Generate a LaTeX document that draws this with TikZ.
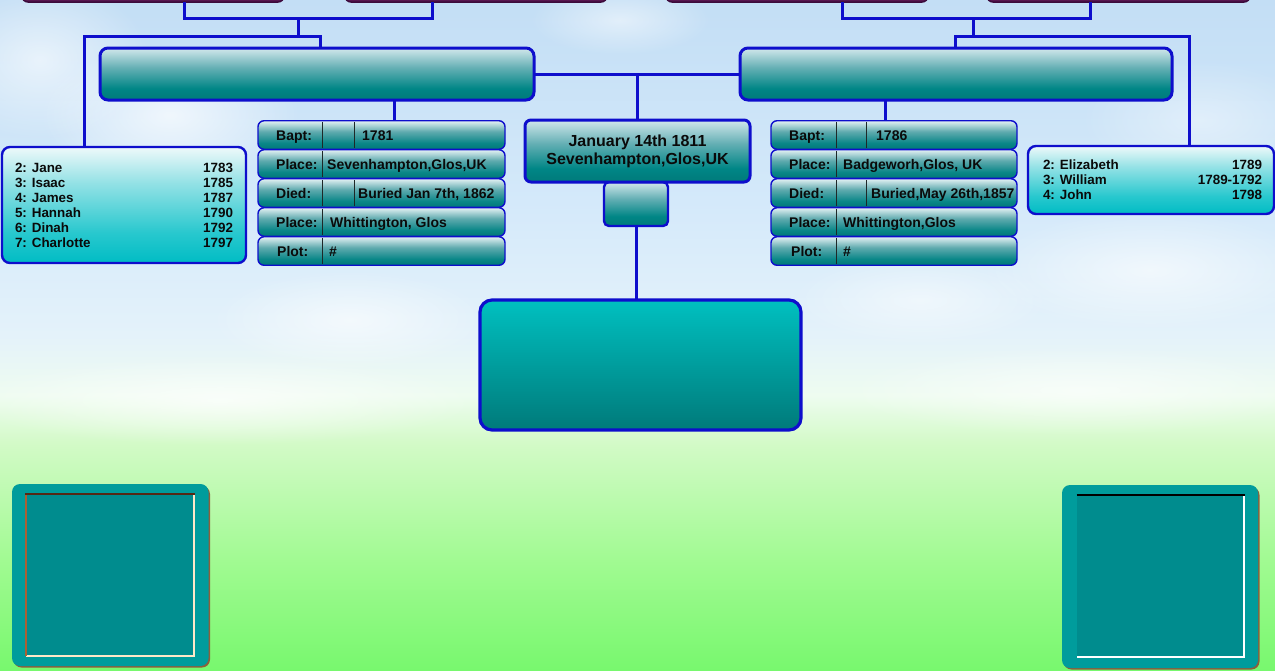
\documentclass[tikz,border=0pt]{standalone}
\usepackage{fontspec}
\setmainfont{Liberation Sans}
\usetikzlibrary{fadings,calc}
\definecolor{lineblue}{RGB}{14,14,204}
\definecolor{txt}{RGB}{10,10,10}
\definecolor{divcol}{RGB}{30,40,40}
\definecolor{purp}{RGB}{88,22,80}
\definecolor{purpedge}{RGB}{60,10,60}
% family boxes
\definecolor{famB}{RGB}{0,122,122}
\definecolor{famB2}{RGB}{0,134,134}
\definecolor{famM}{RGB}{100,175,180}
\definecolor{famT}{RGB}{210,232,236}
% rows
\definecolor{rowB}{RGB}{0,120,120}
\definecolor{rowB2}{RGB}{10,135,136}
\definecolor{rowM}{RGB}{95,170,174}
\definecolor{rowT}{RGB}{228,242,244}
% kids
\definecolor{kidB}{RGB}{0,188,196}
\definecolor{kidB2}{RGB}{40,200,206}
\definecolor{kidM}{RGB}{150,226,230}
\definecolor{kidT}{RGB}{238,249,250}
% big box
\definecolor{bigT}{RGB}{0,192,192}
\definecolor{bigB}{RGB}{0,122,122}
% background
\definecolor{bgA}{RGB}{120,248,110}
\definecolor{bgB}{RGB}{160,250,145}
\definecolor{bgC}{RGB}{210,250,198}
\definecolor{bgD}{RGB}{238,252,240}
\definecolor{bgE}{RGB}{228,242,250}
\definecolor{bgF}{RGB}{212,233,250}
\definecolor{bgG}{RGB}{195,222,245}
% frames
\definecolor{frOut}{RGB}{0,156,156}
\definecolor{frIn}{RGB}{0,140,142}
\definecolor{frShadow}{RGB}{140,95,60}
\definecolor{frDark}{RGB}{85,40,20}
\definecolor{frBrown}{RGB}{170,95,50}
\definecolor{frCream}{RGB}{255,232,200}
\pgfdeclareverticalshading{famsh}{100bp}{color(0bp)=(famB); color(25bp)=(famB); color(36bp)=(famB2); color(56bp)=(famM); color(75bp)=(famT); color(100bp)=(famT)}
\pgfdeclareverticalshading{rowsh}{100bp}{color(0bp)=(rowB); color(25bp)=(rowB); color(36bp)=(rowB2); color(56bp)=(rowM); color(75bp)=(rowT); color(100bp)=(rowT)}
\pgfdeclareverticalshading{kidsh}{100bp}{color(0bp)=(kidB); color(25bp)=(kidB); color(38bp)=(kidB2); color(60bp)=(kidM); color(75bp)=(kidT); color(100bp)=(kidT)}
\pgfdeclareverticalshading{bigsh}{100bp}{color(0bp)=(bigB); color(25bp)=(bigB); color(75bp)=(bigT); color(100bp)=(bigT)}
\pgfdeclareverticalshading{bgsh}{100bp}{color(0bp)=(bgA); color(25bp)=(bgA); color(33bp)=(bgB); color(41.8bp)=(bgC); color(45.5bp)=(bgD); color(50bp)=(bgE); color(60bp)=(bgF); color(75bp)=(bgG); color(100bp)=(bgG)}
\tikzfading[name=fuzzy, inner color=transparent!0, outer color=transparent!100]
\begin{document}
\begin{tikzpicture}[x=1pt,y=-1pt,
  conn/.style={draw=lineblue, line width=3pt},
  purplebox/.style={draw=purpedge, fill=purp, line width=1.5pt, rounded corners=6pt, inner sep=0, outer sep=0, minimum height=32pt},
  fambox/.style={draw=lineblue, line width=3pt, rounded corners=8pt, shade, shading=famsh, inner sep=0, outer sep=0, minimum height=52pt},
  rowbox/.style={draw=lineblue, line width=1.4pt, rounded corners=6pt, shade, shading=rowsh, inner sep=0, outer sep=0, minimum height=28.5pt},
  rowtext/.style={anchor=base west, inner sep=0, font=\fontsize{14}{16}\selectfont\bfseries, text=txt},
  divider/.style={draw=divcol, line width=1pt, shorten <=1.5pt, shorten >=1.5pt},
  kidsbox/.style={draw=lineblue, line width=2.4pt, rounded corners=8pt, shade, shading=kidsh, inner sep=0, outer sep=0},
  kidstext/.style={inner sep=0, font=\fontsize{13.4}{15}\selectfont\bfseries, text=txt},
  birthbox/.style={draw=lineblue, line width=3pt, rounded corners=6pt, shade, shading=famsh, inner sep=0, outer sep=0, align=center, font=\fontsize{16}{18}\selectfont\bfseries, text=txt},
  smallbox/.style={draw=lineblue, line width=2.4pt, rounded corners=5pt, shade, shading=famsh, inner sep=0, outer sep=0},
  bigbox/.style={draw=lineblue, line width=3.2pt, rounded corners=12pt, shade, shading=bigsh, inner sep=0, outer sep=0},
  cloud/.style={fill=white, path fading=fuzzy, fill opacity=#1},
  cloud/.default=0.6
]
\clip (0,0) rectangle (1275,670);
% background
\shade[shading=bgsh] (0,0) rectangle (1275,670);
% soft clouds
\fill[cloud=0.7] (170,115) ellipse (130 and 70);
\fill[cloud=0.6] (40,60) ellipse (110 and 80);
\fill[cloud=0.5] (620,20) ellipse (90 and 35);
\fill[cloud=0.6] (1150,270) ellipse (170 and 60);
\fill[cloud=0.5] (920,300) ellipse (130 and 45);
\fill[cloud=0.6] (350,320) ellipse (140 and 50);
\fill[cloud=0.7] (220,400) ellipse (260 and 45);
\fill[cloud=0.6] (1080,390) ellipse (240 and 45);
\fill[cloud=0.4] (1200,120) ellipse (120 and 60);

% top (partially visible) boxes
\node[purplebox, minimum width=262pt] (tl1) at (153,-14) {};
\node[purplebox, minimum width=262pt] (tl2) at (476,-14) {};
\node[purplebox, minimum width=262pt] (tr1) at (797,-14) {};
\node[purplebox, minimum width=263pt] (tr2) at (1118.5,-14) {};

% family boxes
\node[fambox, minimum width=434pt] (famL) at (317,74) {};
\node[fambox, minimum width=432pt] (famR) at (956,74) {};

% children boxes
\node[kidsbox, minimum width=244pt, minimum height=116pt] (kidsL) at (124,205) {};
\node[kidsbox, minimum width=246pt, minimum height=68pt] (kidsR) at (1151,180) {};
\node[kidstext] (kidsLt) at (124,207.2) {\begin{tabular*}{218pt}{@{}l@{\extracolsep{\fill}}r@{}}
2: Jane&1783\\3: Isaac&1785\\4: James&1787\\5: Hannah&1790\\6: Dinah&1792\\7: Charlotte&1797\end{tabular*}};
\node[kidstext] (kidsRt) at (1152.5,181.6) {\begin{tabular*}{219pt}{@{}l@{\extracolsep{\fill}}r@{}}
2: Elizabeth&1789\\3: William&1789-1792\\4: John&1798\end{tabular*}};

% info rows
\foreach \i/\y in {1/135,2/164,3/193,4/222,5/251}{
  \node[rowbox, minimum width=247pt] (lt\i) at (381.5,\y) {};
  \node[rowbox, minimum width=246pt] (rt\i) at (894,\y) {};
}
\foreach \i in {1,...,5}{
  \draw[divider] ([xshift=-59.5pt]lt\i.north) -- ([xshift=-59.5pt]lt\i.south);
  \draw[divider] ([xshift=-58pt]rt\i.north) -- ([xshift=-58pt]rt\i.south);
}
\foreach \i in {1,3}{
  \draw[divider] ([xshift=-27.5pt]lt\i.north) -- ([xshift=-27.5pt]lt\i.south);
  \draw[divider] ([xshift=-28pt]rt\i.north) -- ([xshift=-28pt]rt\i.south);
}
% left keys/values
\node[rowtext] (lk1) at (276,140) {Bapt:};
\node[rowtext] (lk2) at (276,169) {Place:};
\node[rowtext] (lk3) at (276,198) {Died:};
\node[rowtext] (lk4) at (276,227) {Place:};
\node[rowtext] (lk5) at (277,256) {Plot:};
\node[rowtext] (lv1) at (362,140) {1781};
\node[rowtext] (lv2) at (327,169) {Sevenhampton,Glos,UK};
\node[rowtext] (lv3) at (358,198) {Buried Jan 7th, 1862};
\node[rowtext] (lv4) at (330,227) {Whittington, Glos};
\node[rowtext] (lv5) at (329,256) {\#};
% right keys/values
\node[rowtext] (rk1) at (789,140) {Bapt:};
\node[rowtext] (rk2) at (789,169) {Place:};
\node[rowtext] (rk3) at (789,198) {Died:};
\node[rowtext] (rk4) at (789,227) {Place:};
\node[rowtext] (rk5) at (791,256) {Plot:};
\node[rowtext] (rv1) at (876,140) {1786};
\node[rowtext] (rv2) at (843,169) {Badgeworh,Glos, UK};
\node[rowtext] (rv3) at (871,198) {Buried,May 26th,1857};
\node[rowtext] (rv4) at (843,227) {Whittington,Glos};
\node[rowtext] (rv5) at (843,256) {\#};

% centre
\node[smallbox, minimum width=64pt, minimum height=44pt] (sm) at (636,204) {};
\node[birthbox, minimum width=225pt, minimum height=62pt] (birth) at (637.5,151) {January 14th 1811\\Sevenhampton,Glos,UK};
\node[bigbox, minimum width=321pt, minimum height=130pt] (big) at (640.5,365) {};

% junction coordinates
\coordinate (tjL) at (298,18);
\coordinate (hL) at (298,36);
\coordinate (tjR) at (973,18);
\coordinate (hR) at (973,36);

% connectors
\draw[conn] ([xshift=31.5pt]tl1.south) -- ++(0,16) -| ([xshift=-43.5pt]tl2.south);
\draw[conn] (tjL) -- (hL);
\draw[conn] ([xshift=-40pt]kidsL.north) |- (hL) -| ([xshift=3pt]famL.north);
\draw[conn] ([xshift=45pt]tr1.south) -- ++(0,16) -| ([xshift=-28.5pt]tr2.south);
\draw[conn] (tjR) -- (hR);
\draw[conn] ([xshift=-1pt]famR.north) |- (hR) -| ([xshift=38pt]kidsR.north);
\draw[conn] (famL.east) -- (famR.west);
\draw[conn] (birth.north) -- (birth.north |- famL.east);
\draw[conn] ([xshift=77pt]famL.south) -- ([xshift=12.5pt]lt1.north);
\draw[conn] ([xshift=-71pt]famR.south) -- ([xshift=-9pt]rt1.north);
\draw[conn] (sm.south) -- (sm.south |- big.north);

% picture frames (bottom)
\fill[frShadow, rounded corners=8pt] (13.5,486) rectangle (210,667.5);
\fill[frOut, rounded corners=8pt] (12,484) rectangle (208.5,666);
\fill[frIn] (26,494) rectangle (194,656);
\draw[frCream, line width=1.5pt] (26,656) -- (194,656) -- (194,494);
\draw[frBrown, line width=1.5pt] (26,656) -- (26,494);
\draw[frDark, line width=1.5pt] (25.3,494) -- (194.7,494);

\fill[frShadow, rounded corners=8pt] (1063.5,487) rectangle (1259.5,669.5);
\fill[frOut, rounded corners=8pt] (1062,485) rectangle (1258,668);
\fill[frIn] (1077,495) rectangle (1244,657);
\draw[white, line width=1.5pt] (1077,657) -- (1244,657) -- (1244,495);
\draw[black, line width=1.3pt] (1076.5,495) -- (1244.7,495);
\end{tikzpicture}
\end{document}
